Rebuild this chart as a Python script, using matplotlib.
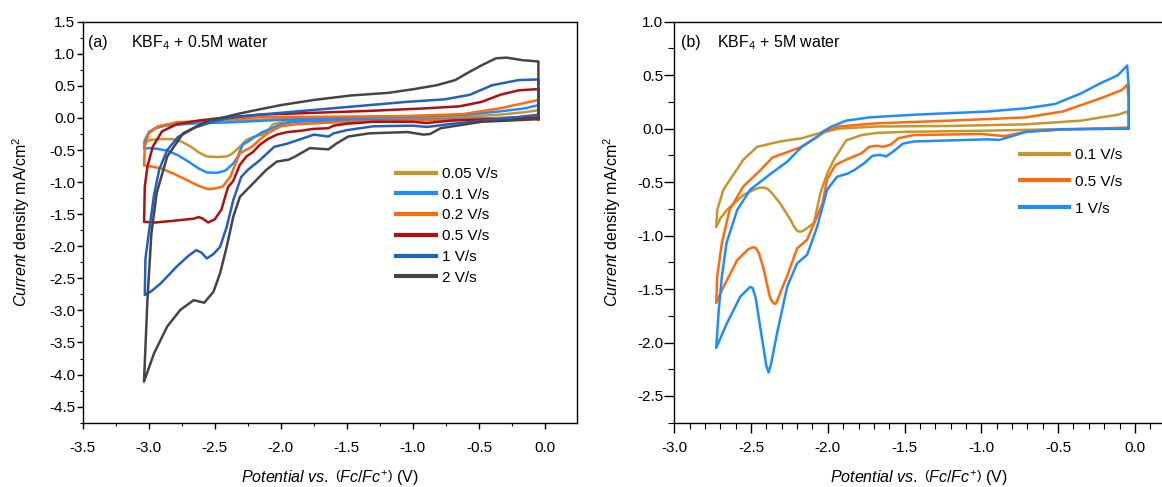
import numpy as np
import matplotlib
matplotlib.use('Agg')
import matplotlib.pyplot as plt
from matplotlib.ticker import MultipleLocator, FormatStrFormatter

plt.rcParams['font.family'] = ['Liberation Sans', 'DejaVu Sans']
plt.rcParams['mathtext.fontset'] = 'custom'
plt.rcParams['mathtext.rm'] = 'Liberation Sans'
plt.rcParams['mathtext.it'] = 'Liberation Sans:italic'
plt.rcParams['mathtext.bf'] = 'Liberation Sans:bold'

# ---------------- panel (a): KBF4 + 0.5M water ----------------
# each loop: lower branch right->left, then upper branch left->right
labels_a = ['0.05 V/s', '0.1 V/s', '0.2 V/s', '0.5 V/s', '1 V/s', '2 V/s']
colors_a = ['#C8952C', '#1E8CFF', '#FF6A0D', '#B00F0F', '#1F60C0', '#454545']

x_005 = [-0.05, -0.5, -1.0, -1.5, -1.89, -2.0, -2.06, -2.11, -2.14, -2.20, -2.26, -2.31, -2.37, -2.41, -2.48,
         -2.56, -2.62, -2.68, -2.75, -2.82, -2.90, -2.98, -3.02, -3.035,
         -3.03, -3.0, -2.96, -2.90, -2.79, -2.6, -2.4, -2.0, -1.5, -1.0, -0.6, -0.35, -0.15, -0.05, -0.05]
y_005 = [0.0, -0.01, -0.02, -0.03, -0.04, -0.07, -0.10, -0.22, -0.26, -0.29, -0.34, -0.45, -0.56, -0.60, -0.61,
         -0.60, -0.54, -0.45, -0.37, -0.33, -0.33, -0.34, -0.37, -0.40,
         -0.34, -0.24, -0.17, -0.13, -0.08, -0.05, -0.04, -0.02, -0.01, 0.0, 0.02, 0.05, 0.09, 0.12, 0.0]

x_01 = [-0.05, -0.5, -1.0, -1.5, -1.9, -2.0, -2.1, -2.14, -2.20, -2.25, -2.29, -2.33, -2.36, -2.42, -2.48,
        -2.56, -2.62, -2.70, -2.78, -2.86, -2.94, -3.0, -3.035,
        -3.03, -3.0, -2.95, -2.88, -2.75, -2.6, -2.4, -2.2, -2.0, -1.5, -1.0, -0.6, -0.35, -0.15, -0.05, -0.05]
y_01 = [0.02, -0.01, -0.03, -0.04, -0.06, -0.10, -0.19, -0.22, -0.30, -0.37, -0.42, -0.62, -0.71, -0.82, -0.855,
        -0.85, -0.79, -0.68, -0.58, -0.51, -0.48, -0.47, -0.48,
        -0.38, -0.22, -0.16, -0.12, -0.10, -0.08, -0.07, -0.05, -0.03, 0.0, 0.02, 0.05, 0.10, 0.15, 0.20, 0.02]

x_02 = [-0.05, -0.5, -1.0, -1.5, -1.89, -2.0, -2.1, -2.16, -2.22, -2.31, -2.36, -2.38, -2.44, -2.50, -2.55,
        -2.62, -2.70, -2.80, -2.90, -2.97, -3.0, -3.035,
        -3.03, -3.0, -2.93, -2.79, -2.56, -2.17, -1.6, -1.05, -0.62, -0.34, -0.05, -0.05]
y_02 = [0.02, -0.02, -0.04, -0.06, -0.10, -0.13, -0.24, -0.34, -0.45, -0.55, -0.80, -0.91, -1.07, -1.10, -1.11,
        -1.06, -0.98, -0.88, -0.79, -0.76, -0.75, -0.74,
        -0.45, -0.24, -0.13, -0.07, -0.04, 0.01, 0.02, 0.03, 0.06, 0.15, 0.28, 0.02]

x_05 = [-0.05, -0.4, -0.7, -0.85, -0.9, -1.0, -1.3, -1.5, -1.6, -1.64, -1.75, -1.85, -1.95, -2.03, -2.1,
        -2.16, -2.21, -2.26, -2.31, -2.36, -2.40, -2.45, -2.50, -2.55, -2.59, -2.62, -2.66, -2.75, -2.85,
        -2.95, -3.035,
        -3.03, -3.01, -2.97, -2.90, -2.79, -2.62, -2.45, -2.17, -1.89, -1.33, -0.9, -0.65, -0.48, -0.34, -0.2,
        -0.05, -0.05]
y_05 = [0.0, -0.02, -0.04, -0.07, -0.08, -0.06, -0.06, -0.09, -0.12, -0.16, -0.17, -0.20, -0.22, -0.26, -0.33,
        -0.42, -0.53, -0.60, -0.73, -0.98, -1.08, -1.43, -1.58, -1.63, -1.57, -1.545, -1.57, -1.59, -1.61,
        -1.63, -1.62,
        -1.07, -0.76, -0.45, -0.21, -0.10, -0.04, 0.0, 0.05, 0.07, 0.11, 0.15, 0.18, 0.25, 0.36, 0.43,
        0.45, 0.0]

x_1 = [-0.05, -0.4, -0.7, -0.85, -0.9, -1.0, -1.3, -1.5, -1.6, -1.64, -1.75, -1.85, -1.95, -2.05, -2.16,
       -2.25, -2.30, -2.36, -2.41, -2.46, -2.51, -2.56, -2.60, -2.64, -2.70, -2.79, -2.91, -2.98, -3.03,
       -3.025, -3.0, -2.96, -2.92, -2.86, -2.78, -2.65, -2.5, -2.39, -2.17, -1.89, -1.61, -1.33, -1.05, -0.76,
       -0.57, -0.40, -0.20, -0.05, -0.05]
y_1 = [0.05, -0.03, -0.09, -0.13, -0.14, -0.12, -0.13, -0.19, -0.24, -0.29, -0.26, -0.33, -0.40, -0.45, -0.66,
       -0.81, -0.92, -1.28, -1.70, -2.01, -2.12, -2.19, -2.10, -2.06, -2.15, -2.32, -2.58, -2.70, -2.76,
       -2.2, -1.8, -1.2, -0.8, -0.5, -0.3, -0.15, -0.05, 0.0, 0.05, 0.10, 0.15, 0.20, 0.25, 0.29,
       0.36, 0.51, 0.59, 0.60, 0.05]

x_2 = [-0.05, -0.48, -0.79, -0.87, -0.92, -1.04, -1.33, -1.49, -1.58, -1.64, -1.78, -1.89, -1.94, -2.03, -2.11,
       -2.21, -2.31, -2.36, -2.41, -2.46, -2.51, -2.58, -2.66, -2.76, -2.86, -2.96, -3.036,
       -3.01, -2.98, -2.94, -2.86, -2.74, -2.54, -2.45, -2.31, -2.17, -2.0, -1.75, -1.47, -1.19, -0.99, -0.82,
       -0.68, -0.57, -0.48, -0.37, -0.29, -0.17, -0.05, -0.05]
y_2 = [-0.02, -0.06, -0.16, -0.25, -0.26, -0.22, -0.24, -0.29, -0.40, -0.49, -0.47, -0.60, -0.65, -0.68, -0.81,
       -1.02, -1.23, -1.54, -2.01, -2.42, -2.71, -2.88, -2.84, -2.99, -3.25, -3.67, -4.11,
       -2.84, -1.80, -1.17, -0.60, -0.24, -0.03, 0.0, 0.07, 0.13, 0.20, 0.28, 0.35, 0.39, 0.45, 0.51,
       0.59, 0.72, 0.82, 0.93, 0.94, 0.90, 0.88, -0.02]

curves_a = [(x_005, y_005), (x_01, y_01), (x_02, y_02), (x_05, y_05), (x_1, y_1), (x_2, y_2)]

# ---------------- panel (b): KBF4 + 5M water ----------------
labels_b = ['0.1 V/s', '0.5 V/s', '1 V/s']
colors_b = ['#C8952C', '#FF6A0D', '#1E8CFF']

xb_01 = [-0.04, -0.5, -1.0, -1.5, -1.68, -1.78, -1.88, -1.96, -2.004, -2.048, -2.09, -2.135, -2.16, -2.18,
         -2.20, -2.22, -2.244, -2.31, -2.36, -2.39, -2.42, -2.45, -2.48, -2.55, -2.657, -2.70, -2.727,
         -2.72, -2.68, -2.61, -2.55, -2.46, -2.31, -2.17, -2.05, -1.93, -1.68, -1.2, -0.71, -0.35, -0.11,
         -0.05, -0.04, -0.04]
yb_01 = [0.0, -0.005, -0.02, -0.03, -0.04, -0.06, -0.11, -0.29, -0.42, -0.60, -0.88, -0.93, -0.955, -0.965,
         -0.955, -0.915, -0.85, -0.70, -0.61, -0.565, -0.55, -0.555, -0.57, -0.62, -0.76, -0.84, -0.92,
         -0.76, -0.57, -0.42, -0.29, -0.17, -0.12, -0.09, -0.04, 0.0, 0.02, 0.025, 0.04, 0.075, 0.13,
         0.16, 0.11, 0.0]

xb_05 = [-0.04, -0.5, -0.71, -0.85, -1.0, -1.44, -1.54, -1.59, -1.64, -1.68, -1.73, -1.78, -1.88, -1.95,
         -2.004, -2.035, -2.07, -2.135, -2.2, -2.265, -2.30, -2.33, -2.342, -2.355, -2.37, -2.38, -2.42,
         -2.45, -2.47, -2.49, -2.52, -2.59, -2.69, -2.727,
         -2.72, -2.69, -2.64, -2.55, -2.44, -2.36, -2.17, -2.07, -2.02, -1.93, -1.68, -1.20, -0.71, -0.47,
         -0.23, -0.085, -0.05, -0.04, -0.04]
yb_05 = [0.01, -0.01, -0.03, -0.07, -0.05, -0.06, -0.09, -0.15, -0.17, -0.16, -0.17, -0.23, -0.29, -0.34,
         -0.47, -0.70, -0.82, -1.04, -1.12, -1.38, -1.50, -1.61, -1.64, -1.63, -1.60, -1.56, -1.30,
         -1.16, -1.115, -1.11, -1.13, -1.23, -1.51, -1.63,
         -1.38, -1.07, -0.76, -0.54, -0.39, -0.27, -0.17, -0.08, -0.03, 0.02, 0.05, 0.075, 0.105, 0.16,
         0.28, 0.36, 0.41, 0.27, 0.01]

xb_1 = [-0.04, -0.47, -0.71, -0.81, -0.885, -0.96, -1.44, -1.51, -1.575, -1.62, -1.66, -1.71, -1.76, -1.83,
        -1.87, -1.94, -2.004, -2.07, -2.135, -2.20, -2.265, -2.33, -2.37, -2.386, -2.40, -2.43, -2.47,
        -2.49, -2.505, -2.52, -2.57, -2.657, -2.727,
        -2.71, -2.69, -2.66, -2.59, -2.505, -2.37, -2.265, -2.17, -2.07, -2.035, -1.975, -1.88, -1.73, -1.44,
        -0.96, -0.71, -0.52, -0.35, -0.23, -0.11, -0.05, -0.04, -0.04]
yb_1 = [0.0, -0.006, -0.03, -0.075, -0.106, -0.10, -0.12, -0.14, -0.215, -0.26, -0.245, -0.255, -0.32, -0.39,
        -0.42, -0.45, -0.57, -0.92, -1.18, -1.26, -1.48, -1.91, -2.20, -2.28, -2.22, -1.95, -1.58,
        -1.49, -1.48, -1.50, -1.57, -1.82, -2.05,
        -1.69, -1.38, -1.07, -0.76, -0.57, -0.42, -0.31, -0.17, -0.075, -0.03, 0.02, 0.075, 0.105, 0.13,
        0.16, 0.19, 0.23, 0.33, 0.42, 0.50, 0.59, 0.39, 0.0]

curves_b = [(xb_01, yb_01), (xb_05, yb_05), (xb_1, yb_1)]

W, H = 1162, 487
fig = plt.figure(figsize=(W / 100, H / 100), dpi=100)

# axes positions in pixels (left, right, top, bottom)
ax1 = fig.add_axes([82.7 / W, 1 - 422.7 / H, (576.7 - 82.7) / W, (422.7 - 21.7) / H])
ax2 = fig.add_axes([674.3 / W, 1 - 422.7 / H, (1162.5 - 674.3) / W, (422.7 - 21.7) / H])

for (x, y), c, lab in zip(curves_a, colors_a, labels_a):
    ax1.plot(x, y, color=c, lw=1.8, label=lab, solid_joinstyle='round')
for (x, y), c, lab in zip(curves_b, colors_b, labels_b):
    ax2.plot(x, y, color=c, lw=1.8, label=lab, solid_joinstyle='round')

ax1.set_xlim(-3.5, 0.24)
ax1.set_ylim(-4.75, 1.5)
ax1.xaxis.set_major_locator(MultipleLocator(0.5))
ax1.xaxis.set_minor_locator(MultipleLocator(0.25))
ax1.yaxis.set_major_locator(MultipleLocator(0.5))
ax1.yaxis.set_minor_locator(MultipleLocator(0.25))

ax2.set_xlim(-3.0, 0.18)
ax2.set_ylim(-2.75, 1.0)
ax2.xaxis.set_major_locator(MultipleLocator(0.5))
ax2.xaxis.set_minor_locator(MultipleLocator(0.1))
ax2.yaxis.set_major_locator(MultipleLocator(0.5))
ax2.yaxis.set_minor_locator(MultipleLocator(0.25))

xlab = r'$\mathit{Potential\ vs.}\ \left(\mathit{Fc/Fc}^{+}\right)$ (V)'
ylab = r'$\mathit{Current}$ density mA/cm$^2$'

for ax in (ax1, ax2):
    for s in ax.spines.values():
        s.set_linewidth(1.0)
    ax.tick_params(which='major', direction='out', length=4.5, width=1.0, labelsize=11)
    ax.tick_params(which='minor', direction='out', length=2.5, width=0.8)
    ax.tick_params(axis='x', which='major', pad=8.5)
    ax.tick_params(axis='y', which='major', pad=1)
    ax.set_xlabel(xlab, fontsize=11.5, labelpad=10)
    ax.xaxis.set_major_formatter(FormatStrFormatter('%.1f'))
    ax.yaxis.set_major_formatter(FormatStrFormatter('%.1f'))

ax1.set_ylabel(ylab, fontsize=11.5, labelpad=12.5)
ax2.set_ylabel(ylab, fontsize=11.5, labelpad=10)
ax2.tick_params(which='major', length=7)
ax2.tick_params(which='minor', length=4)
ax2.tick_params(axis='x', which='major', pad=6)

# panel captions
ax1.text(88 / W, 1 - 43 / H, '(a)', transform=fig.transFigure, fontsize=11.5, va='center')
ax1.text(131 / W, 1 - 43 / H, r'KBF$_4$ + 0.5M water', transform=fig.transFigure, fontsize=11.5, va='center')
ax2.text(681 / W, 1 - 43 / H, '(b)', transform=fig.transFigure, fontsize=11.5, va='center')
ax2.text(717 / W, 1 - 43 / H, r'KBF$_4$ + 5M water', transform=fig.transFigure, fontsize=11.5, va='center')

leg1 = ax1.legend(loc='upper left', bbox_to_anchor=(396 / W, 1 - 167 / H), bbox_transform=fig.transFigure,
                  frameon=False, fontsize=11, handlelength=2.6, handletextpad=0.4, labelspacing=0.44,
                  borderpad=0, borderaxespad=0)
leg2 = ax2.legend(loc='upper left', bbox_to_anchor=(1020 / W, 1 - 148 / H), bbox_transform=fig.transFigure,
                  frameon=False, fontsize=11, handlelength=3.2, handletextpad=0.4, labelspacing=0.84,
                  borderpad=0, borderaxespad=0)
for leg in (leg1, leg2):
    for h in leg.get_lines():
        h.set_linewidth(3)

fig.savefig('out.png', dpi=100)
